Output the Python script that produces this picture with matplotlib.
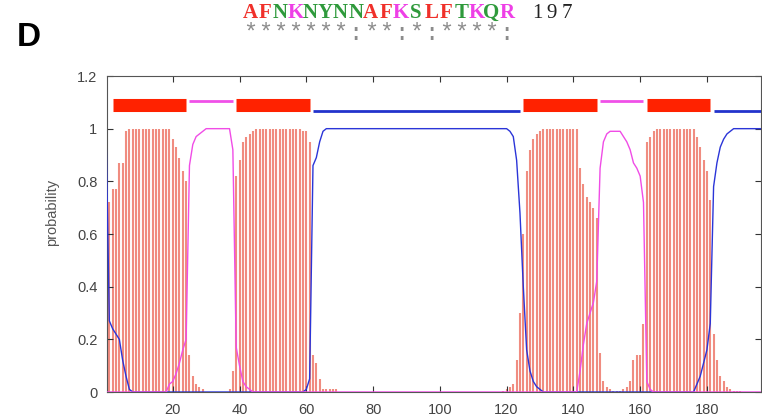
import numpy as np
import matplotlib.pyplot as plt

# residue positions (0 is the start point of the curves)
residues = np.arange(0, 198)

# posterior probability of transmembrane helix (red impulses)
tm_prob = [
    0.0, 0.72, 0.77, 0.77, 0.87, 0.87, 0.99, 1.0, 1.0, 1.0,
    1.0, 1.0, 1.0, 1.0, 1.0, 1.0, 1.0, 1.0, 1.0, 1.0,
    0.96, 0.93, 0.89, 0.84, 0.80, 0.14, 0.06, 0.03, 0.02, 0.01,
    0.0, 0.0, 0.0, 0.0, 0.0, 0.0, 0.0, 0.01, 0.08, 0.82,
    0.88, 0.95, 0.97, 0.98, 0.99, 1.0, 1.0, 1.0, 1.0, 1.0,
    1.0, 1.0, 1.0, 1.0, 1.0, 1.0, 1.0, 1.0, 1.0, 0.99,
    0.99, 0.95, 0.14, 0.11, 0.05, 0.01, 0.01, 0.01, 0.01, 0.01,
    0.0, 0.0, 0.0, 0.0, 0.0, 0.0, 0.0, 0.0, 0.0, 0.0,
    0.0, 0.0, 0.0, 0.0, 0.0, 0.0, 0.0, 0.0, 0.0, 0.0,
    0.0, 0.0, 0.0, 0.0, 0.0, 0.0, 0.0, 0.0, 0.0, 0.0,
    0.0, 0.0, 0.0, 0.0, 0.0, 0.0, 0.0, 0.0, 0.0, 0.0,
    0.0, 0.0, 0.0, 0.0, 0.0, 0.0, 0.0, 0.0, 0.0, 0.005,
    0.01, 0.02, 0.03, 0.12, 0.30, 0.60, 0.84, 0.92, 0.96, 0.98,
    0.99, 1.0, 1.0, 1.0, 1.0, 1.0, 1.0, 1.0, 1.0, 1.0,
    1.0, 1.0, 0.85, 0.79, 0.74, 0.72, 0.70, 0.66, 0.15, 0.04,
    0.02, 0.01, 0.005, 0.005, 0.005, 0.01, 0.02, 0.04, 0.12, 0.14,
    0.14, 0.26, 0.95, 0.97, 0.99, 1.0, 1.0, 1.0, 1.0, 1.0,
    1.0, 1.0, 1.0, 1.0, 1.0, 1.0, 1.0, 0.97, 0.93, 0.88,
    0.84, 0.73, 0.22, 0.12, 0.06, 0.04, 0.02, 0.01, 0.005, 0.005,
    0.005, 0.0, 0.0, 0.0, 0.0, 0.0, 0.0, 0.0,
]

# probability of being inside (blue line)
inside_prob = [
    1.0, 0.27, 0.24, 0.22, 0.20, 0.12, 0.06, 0.01, 0.0, 0.0,
    0.0, 0.0, 0.0, 0.0, 0.0, 0.0, 0.0, 0.0, 0.0, 0.0,
    0.0, 0.0, 0.0, 0.0, 0.0, 0.0, 0.0, 0.0, 0.0, 0.0,
    0.0, 0.0, 0.0, 0.0, 0.0, 0.0, 0.0, 0.0, 0.0, 0.0,
    0.0, 0.0, 0.0, 0.0, 0.0, 0.0, 0.0, 0.0, 0.0, 0.0,
    0.0, 0.0, 0.0, 0.0, 0.0, 0.0, 0.0, 0.0, 0.0, 0.0,
    0.01, 0.05, 0.86, 0.89, 0.95, 0.99, 1.0, 1.0, 1.0, 1.0,
    1.0, 1.0, 1.0, 1.0, 1.0, 1.0, 1.0, 1.0, 1.0, 1.0,
    1.0, 1.0, 1.0, 1.0, 1.0, 1.0, 1.0, 1.0, 1.0, 1.0,
    1.0, 1.0, 1.0, 1.0, 1.0, 1.0, 1.0, 1.0, 1.0, 1.0,
    1.0, 1.0, 1.0, 1.0, 1.0, 1.0, 1.0, 1.0, 1.0, 1.0,
    1.0, 1.0, 1.0, 1.0, 1.0, 1.0, 1.0, 1.0, 1.0, 1.0,
    1.0, 0.99, 0.97, 0.88, 0.68, 0.40, 0.16, 0.08, 0.04, 0.02,
    0.01, 0.0, 0.0, 0.0, 0.0, 0.0, 0.0, 0.0, 0.0, 0.0,
    0.0, 0.0, 0.0, 0.0, 0.0, 0.0, 0.0, 0.0, 0.0, 0.0,
    0.0, 0.0, 0.0, 0.0, 0.0, 0.0, 0.0, 0.0, 0.0, 0.0,
    0.0, 0.0, 0.0, 0.0, 0.0, 0.0, 0.0, 0.0, 0.0, 0.0,
    0.0, 0.0, 0.0, 0.0, 0.0, 0.0, 0.0, 0.03, 0.06, 0.11,
    0.16, 0.26, 0.78, 0.87, 0.93, 0.96, 0.98, 0.99, 1.0, 1.0,
    1.0, 1.0, 1.0, 1.0, 1.0, 1.0, 1.0, 1.0,
]

# probability of being outside (magenta line)
outside_prob = [
    0.0, 0.0, 0.0, 0.0, 0.0, 0.0, 0.0, 0.0, 0.0, 0.0,
    0.0, 0.0, 0.0, 0.0, 0.0, 0.0, 0.0, 0.0, 0.0, 0.03,
    0.04, 0.07, 0.11, 0.16, 0.20, 0.86, 0.94, 0.97, 0.98, 0.99,
    1.0, 1.0, 1.0, 1.0, 1.0, 1.0, 1.0, 1.0, 0.92, 0.17,
    0.10, 0.04, 0.02, 0.01, 0.0, 0.0, 0.0, 0.0, 0.0, 0.0,
    0.0, 0.0, 0.0, 0.0, 0.0, 0.0, 0.0, 0.0, 0.0, 0.0,
    0.0, 0.0, 0.0, 0.0, 0.0, 0.0, 0.0, 0.0, 0.0, 0.0,
    0.0, 0.0, 0.0, 0.0, 0.0, 0.0, 0.0, 0.0, 0.0, 0.0,
    0.0, 0.0, 0.0, 0.0, 0.0, 0.0, 0.0, 0.0, 0.0, 0.0,
    0.0, 0.0, 0.0, 0.0, 0.0, 0.0, 0.0, 0.0, 0.0, 0.0,
    0.0, 0.0, 0.0, 0.0, 0.0, 0.0, 0.0, 0.0, 0.0, 0.0,
    0.0, 0.0, 0.0, 0.0, 0.0, 0.0, 0.0, 0.0, 0.0, 0.0,
    0.0, 0.0, 0.0, 0.0, 0.0, 0.0, 0.0, 0.0, 0.0, 0.0,
    0.0, 0.0, 0.0, 0.0, 0.0, 0.0, 0.0, 0.0, 0.0, 0.0,
    0.0, 0.0, 0.08, 0.18, 0.26, 0.30, 0.34, 0.42, 0.85, 0.95,
    0.98, 0.99, 0.99, 0.99, 0.99, 0.97, 0.95, 0.92, 0.87, 0.85,
    0.82, 0.72, 0.04, 0.01, 0.0, 0.0, 0.0, 0.0, 0.0, 0.0,
    0.0, 0.0, 0.0, 0.0, 0.0, 0.0, 0.0, 0.0, 0.0, 0.0,
    0.0, 0.0, 0.0, 0.0, 0.0, 0.0, 0.0, 0.0, 0.0, 0.0,
    0.0, 0.0, 0.0, 0.0, 0.0, 0.0, 0.0, 0.0,
]

# predicted topology shown along the top
topo_start = [2, 25, 39, 62, 125, 148, 162, 182]
topo_end = [24, 38, 61, 124, 147, 161, 181, 197]
topo_kind = ['TM', 'outside', 'TM', 'inside', 'TM', 'outside', 'TM', 'inside']

# alignment fragment above the panel
seq_letters = "AFNKNYNNAFKSLFTKQR"
seq_number = "197"
conservation = "*******:**:*:****:"

clustal_colors = {'red': '#f0302a', 'green': '#2f9a3c', 'magenta': '#ee3fe6'}
letter_group = {'A': 'red', 'F': 'red', 'L': 'red', 'N': 'green', 'Y': 'green',
                'S': 'green', 'T': 'green', 'Q': 'green', 'K': 'magenta', 'R': 'magenta'}

W, H = 762, 419
fig = plt.figure(figsize=(W / 100, H / 100), dpi=100)
ax = fig.add_axes([107 / W, 27 / H, 654 / W, 316 / H])

ax.vlines(residues, 0, tm_prob, color='#f08c80', linewidth=1.5, zorder=1)
ax.plot(residues, inside_prob, color='#2b35d8', linewidth=1.0, zorder=3)
ax.plot(residues, outside_prob, color='#f04ce6', linewidth=1.0, zorder=4)

for s, e, k in zip(topo_start, topo_end, topo_kind):
    if k == 'TM':
        ax.hlines(1.088, s, e, color='#ff2200', linewidth=9.4, zorder=5)
    elif k == 'outside':
        ax.hlines(1.106, s, e, color='#f050e8', linewidth=2.0, zorder=5)
    else:
        ax.hlines(1.068, s, e, color='#2233cc', linewidth=2.0, zorder=5)

ax.set_xlim(0.3, 196.2)
ax.set_ylim(0, 1.2)
ax.set_xticks(range(20, 181, 20))
ax.set_yticks([0, 0.2, 0.4, 0.6, 0.8, 1.0, 1.2])
ax.set_yticklabels(['0', '0.2', '0.4', '0.6', '0.8', '1', '1.2'])
ax.tick_params(direction='in', top=True, right=True, length=4, width=0.8,
               color='#333333', labelcolor='#444444', labelsize=10.5)
ax.tick_params(axis='x', pad=8)
ax.tick_params(axis='y', pad=7)
for lab in ax.get_xticklabels() + ax.get_yticklabels():
    lab.set_family('Liberation Sans')
for sp in ax.spines.values():
    sp.set_color('#555555')
    sp.set_linewidth(0.8)

fig.text(52 / W, 1 - 212 / H, 'probability', rotation=90, ha='center', va='center',
         fontsize=10.5, color='#555555', family='Liberation Sans')

fig.text(17 / W, 1 - 46 / H, 'D', fontsize=24, fontweight='bold',
         family='Liberation Sans', ha='left', va='baseline')

# one fixed-width cell per residue, like the Clustal output
char_w = 15.1 / W
x0 = 250 / W
for i, ch in enumerate(seq_letters):
    fig.text(x0 + i * char_w, 1 - 18 / H, ch, family='Liberation Serif', fontsize=15,
             fontweight='bold', color=clustal_colors[letter_group[ch]],
             ha='center', va='baseline')
for i, ch in enumerate(seq_number):
    fig.text(x0 + (len(seq_letters) + 1 + i) * char_w, 1 - 18 / H, ch,
             family='Liberation Serif', fontsize=15, color='#222222',
             ha='center', va='baseline')
for i, ch in enumerate(conservation):
    fig.text(x0 + i * char_w, 1 - 40 / H, ch, family='Liberation Mono', fontsize=17,
             color='#8c8c8c', ha='center', va='baseline')

fig.savefig('out.png', dpi=100)
